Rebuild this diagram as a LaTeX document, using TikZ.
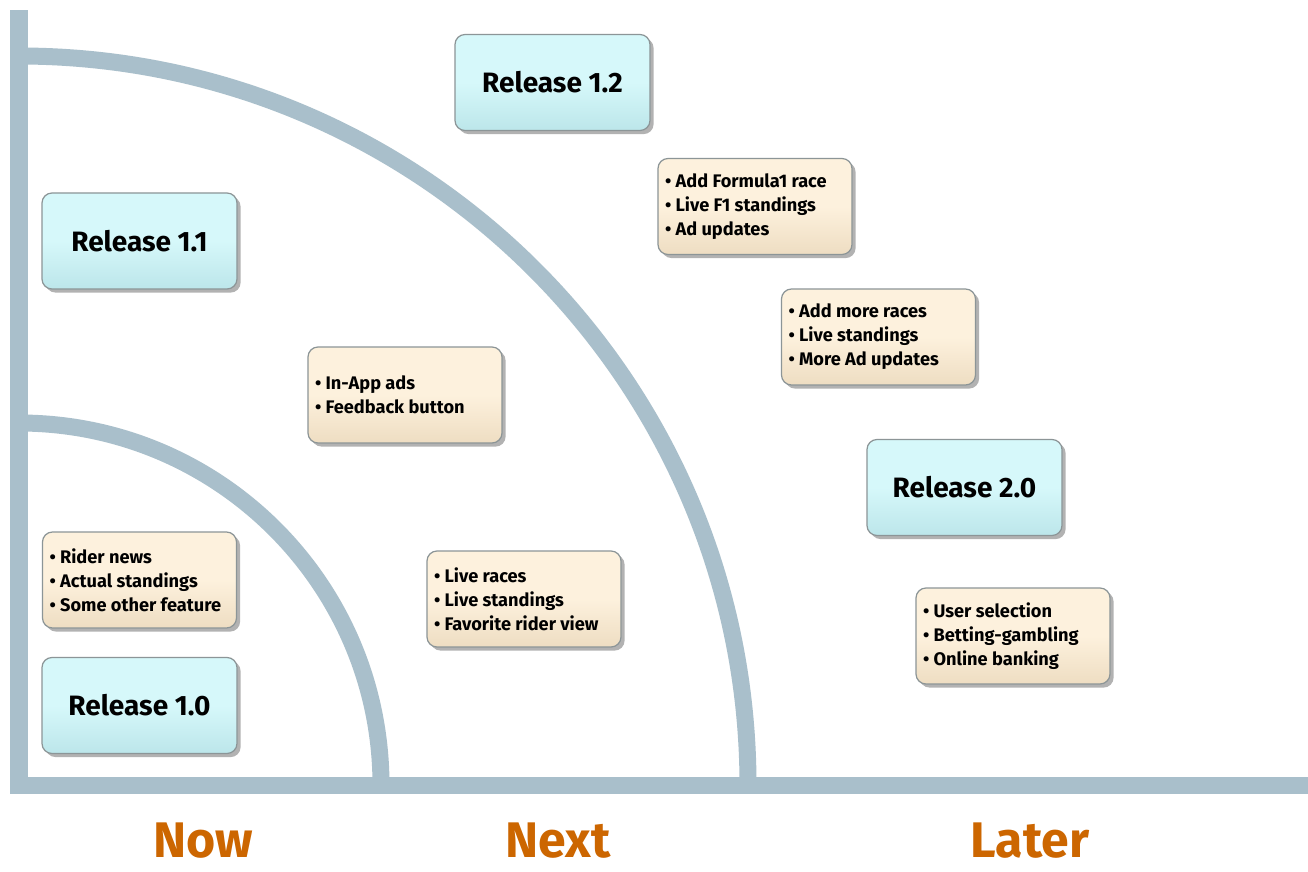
\documentclass[tikz,border=0pt]{standalone}
\usepackage{fontspec}
\setmainfont{Fira Sans}
\usetikzlibrary{shadows}
\definecolor{axisblue}{HTML}{A9BFCB}
\definecolor{relfill}{HTML}{D6F8FA}
\definecolor{reledge}{HTML}{BCE6EA}
\definecolor{featfill}{HTML}{FDF1DD}
\definecolor{featedge}{HTML}{EEDDC2}
\definecolor{boxline}{HTML}{8C9597}
\definecolor{phase}{HTML}{CC6600}
\newcommand\nohyphens{\hyphenpenalty=10000\relax}
\tikzset{
  axisbar/.style={fill=axisblue, draw=none},
  ring/.style={draw=axisblue, line width=8.5pt},
  card/.style={rounded corners=5pt, draw=boxline, line width=0.6pt,
    drop shadow={shadow xshift=1.8pt, shadow yshift=-1.8pt, fill=black!55, opacity=0.55},
    minimum height=48pt},
  release/.style={card, top color=relfill, bottom color=reledge, middle color=relfill,
    minimum width=97.5pt, font=\bfseries\fontsize{14}{16}\selectfont},
  feature/.style={card, top color=featfill, bottom color=featedge, middle color=featfill,
    text width=90pt, inner xsep=3.5pt, align=flush left,
    font=\nohyphens\bfseries\fontsize{9.1}{12}\selectfont},
  phaselabel/.style={anchor=base, text=phase, font=\bfseries\fontsize{25}{28}\selectfont}
}
\begin{document}
\begin{tikzpicture}[x=0.5pt, y=-0.5pt]
  \useasboundingbox[fill=white] (0,0) rectangle (1308,872);

  % axes
  \fill[axisbar] (10,10) rectangle (28,794);
  \fill[axisbar] (10,777) rectangle (1308,794);
  \coordinate (O) at (19,785);

  % horizon rings
  \draw[ring] (O) ++(362,0) arc[start angle=0, end angle=90, radius=181pt];
  \draw[ring] (O) ++(729,0) arc[start angle=0, end angle=90, radius=364.5pt];

  % releases
  \node[release] (r10) at (139.5,705.5) {Release 1.0};
  \node[release] (r11) at (139.5,241) {Release 1.1};
  \node[release] (r12) at (552.5,82.5) {Release 1.2};
  \node[release] (r20) at (964.5,487.5) {Release 2.0};

  % feature lists
  \node[feature] (f10) at (139.5,580) {• Rider news\\• Actual standings\\• Some other feature};
  \node[feature] (f11a) at (405,395) {• In-App ads\\• Feedback button};
  \node[feature] (f11b) at (524,599) {• Live races\\• Live standings\\• Favorite rider view};
  \node[feature] (f12) at (755,206.5) {• Add Formula1 race\\• Live F1 standings\\• Ad updates};
  \node[feature] (f13) at (878.5,337) {• Add more races\\• Live standings\\• More Ad updates};
  \node[feature] (f20) at (1013,636) {• User selection\\• Betting-gambling\\• Online banking};

  % phases
  \node[phaselabel] (now) at (203,857) {Now};
  \node[phaselabel] (next) at (558,857) {Next};
  \node[phaselabel] (later) at (1030,857) {Later};
\end{tikzpicture}
\end{document}
